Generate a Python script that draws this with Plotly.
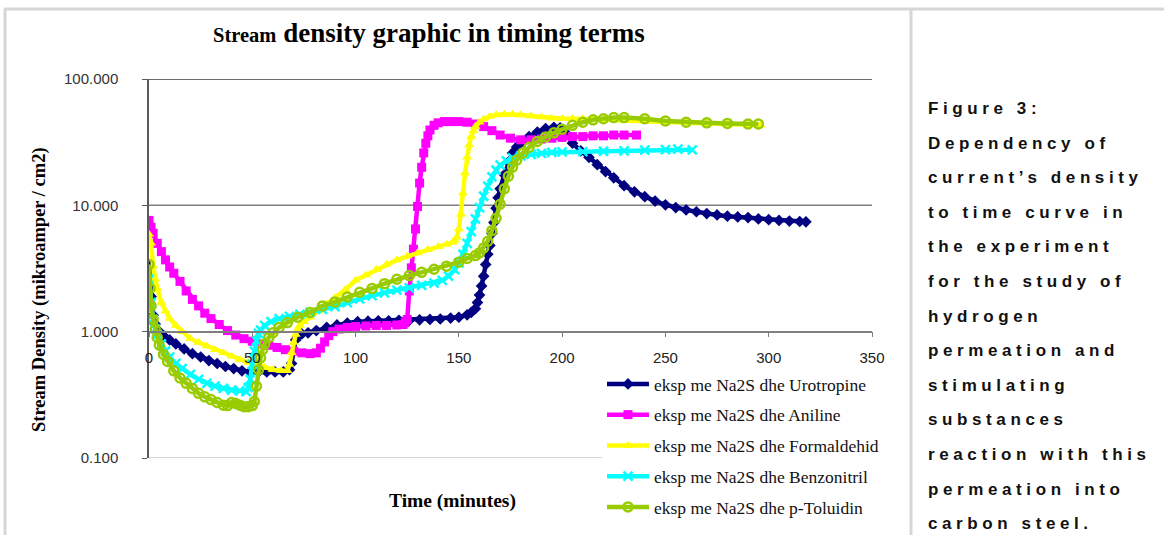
import plotly.graph_objects as go

# ---------------- data ----------------
uro_x = [0, 1, 2, 3, 5, 7, 10, 13, 17, 21, 25, 29, 33, 37, 41, 45, 49, 53, 57, 61, 65, 68, 69, 70, 71, 72, 74, 77,
         81, 86, 91, 96, 101, 106, 111, 116, 121, 126, 131, 136, 141, 146, 150, 154, 156, 158, 159, 160, 161, 162,
         163, 164, 165, 166, 167, 168, 169, 170, 172, 174, 176, 178, 181, 184, 188, 192, 196, 199, 202, 205, 209,
         213, 217, 221, 225, 230, 235, 240, 245, 250, 255, 260, 265, 270, 275, 280, 285, 290, 295, 300, 305, 310,
         315, 318]
uro_y = [3.3, 1.9, 1.35, 1.15, 1.0, 0.93, 0.86, 0.8, 0.73, 0.67, 0.63, 0.59, 0.56, 0.53, 0.51, 0.49, 0.48, 0.48,
         0.48, 0.48, 0.48, 0.5, 0.56, 0.7, 0.86, 0.92, 0.96, 0.98, 1.02, 1.08, 1.13, 1.17, 1.2, 1.21, 1.22, 1.22,
         1.23, 1.23, 1.24, 1.25, 1.26, 1.28, 1.3, 1.36, 1.42, 1.52, 1.7, 1.95, 2.3, 2.75, 3.4, 4.1, 4.8, 6.0, 7.3,
         9.5, 11.5, 13.5, 17.5, 22, 26, 29, 32, 35, 38, 40.5, 41.5, 41, 37, 31, 27, 24, 21, 18.5, 16.5, 14.3, 12.8,
         11.7, 10.8, 10.1, 9.6, 9.2, 8.9, 8.6, 8.4, 8.2, 8.1, 8.0, 7.8, 7.7, 7.6, 7.5, 7.45, 7.4]

ani_x = [0, 1, 2, 4, 6, 8, 10, 12, 15, 18, 21, 24, 27, 30, 34, 38, 42, 46, 50, 54, 58, 62, 66, 70, 74, 78, 81, 83,
         85, 87, 89, 92, 96, 100, 105, 110, 115, 120, 123, 124, 125, 126, 127, 128, 129, 130, 131, 132, 133, 134,
         135, 136, 138, 140, 143, 146, 150, 154, 158, 162, 166, 170, 175, 180, 185, 190, 195, 200, 205, 210, 215,
         220, 225, 230, 236]
ani_y = [7.6, 6.7, 6.0, 5.0, 4.3, 3.7, 3.25, 2.9, 2.5, 2.1, 1.8, 1.6, 1.4, 1.27, 1.14, 1.02, 0.94, 0.88, 0.84,
         0.8, 0.78, 0.75, 0.72, 0.7, 0.68, 0.67, 0.68, 0.74, 0.83, 0.93, 1.0, 1.05, 1.08, 1.1, 1.11, 1.12, 1.12,
         1.13, 1.14, 1.18, 1.25, 2.1, 3.2, 4.5, 6.5, 9.8, 15, 20, 26, 31, 35.5, 39.5, 43, 45, 46, 46, 46, 45.5, 44,
         42, 39, 36, 34, 33, 33, 33.5, 34, 34.5, 35, 35, 35.5, 35.5, 36, 36, 36]

form_x = [0, 1, 2, 3, 4, 6, 8, 10, 13, 16, 20, 24, 28, 32, 36, 40, 44, 48, 52, 56, 60, 64, 67, 68, 69, 70, 71, 72,
          73, 75, 78, 82, 86, 90, 95, 100, 105, 110, 115, 120, 125, 130, 135, 140, 144, 147, 148, 149, 150, 151,
          152, 153, 154, 155, 156, 157, 158, 160, 162, 165, 168, 172, 176, 180, 185, 190, 195, 200, 205, 210, 220,
          230, 240, 250, 260, 270, 280, 290, 296]
form_y = [5.9, 5.0, 3.3, 2.6, 2.2, 1.7, 1.45, 1.27, 1.12, 1.0, 0.88, 0.82, 0.77, 0.72, 0.68, 0.64, 0.6, 0.57,
          0.55, 0.52, 0.5, 0.49, 0.49, 0.55, 0.68, 0.82, 0.95, 1.05, 1.12, 1.2, 1.3, 1.45, 1.65, 1.85, 2.15, 2.55,
          2.8, 3.1, 3.4, 3.7, 3.95, 4.2, 4.45, 4.7, 4.9, 5.1, 5.3, 5.6, 6.5, 8.5, 12.5, 18, 24, 30, 35, 39, 42,
          45.5, 48, 50.5, 52, 52.5, 52.5, 52, 51, 50, 49, 48.5, 48.5, 48.5, 48, 47, 46.5, 45.5, 45, 44.5, 44,
          43.5, 43]

benz_x = [0, 1, 2, 3, 4, 6, 8, 10, 13, 16, 20, 24, 28, 32, 36, 40, 44, 47, 48, 49, 50, 51, 52, 53, 54, 56, 59, 63,
          68, 73, 78, 84, 90, 96, 102, 108, 114, 120, 126, 132, 138, 142, 145, 148, 150, 152, 154, 156, 158, 160,
          162, 164, 166, 168, 170, 173, 176, 180, 185, 190, 195, 200, 210, 220, 230, 240, 250, 256, 263]
benz_y = [2.6, 1.7, 1.25, 1.05, 0.95, 0.8, 0.7, 0.63, 0.56, 0.51, 0.46, 0.42, 0.39, 0.37, 0.355, 0.345, 0.34,
          0.335, 0.36, 0.42, 0.55, 0.7, 0.85, 0.97, 1.03, 1.12, 1.2, 1.27, 1.32, 1.37, 1.42, 1.5, 1.58, 1.7, 1.82,
          1.93, 2.03, 2.13, 2.22, 2.32, 2.42, 2.55, 2.75, 3.1, 3.5, 4.1, 5.0, 6.2, 7.8, 9.6, 11.8, 14.2, 16.8, 19,
          20.8, 22.5, 23.8, 24.6, 25.3, 25.8, 26.2, 26.5, 26.6, 26.8, 27, 27.3, 27.6, 27.8, 27.5]

tol_x = [0, 0.5, 1, 2, 3, 4, 5, 7, 9, 12, 15, 18, 21, 24, 27, 30, 33, 36, 38, 40, 42, 44, 46, 48, 50, 51, 52, 53,
         54, 55, 56, 58, 60, 63, 67, 72, 78, 84, 90, 96, 102, 108, 114, 120, 126, 132, 138, 144, 150, 154, 158,
         160, 162, 164, 166, 168, 170, 172, 174, 176, 178, 181, 184, 188, 192, 196, 200, 205, 210, 215, 220, 225,
         230, 240, 250, 260, 270, 280, 290, 295]
tol_y = [3.4, 2.2, 1.6, 1.25, 1.05, 0.9, 0.78, 0.66, 0.58, 0.49, 0.43, 0.39, 0.355, 0.325, 0.305, 0.29, 0.275,
         0.262, 0.26, 0.275, 0.27, 0.262, 0.255, 0.255, 0.26, 0.28, 0.37, 0.5, 0.62, 0.72, 0.8, 0.9, 0.98, 1.08,
         1.18, 1.3, 1.42, 1.6, 1.72, 1.88, 2.05, 2.2, 2.4, 2.6, 2.78, 2.95, 3.12, 3.3, 3.55, 3.8, 4.0, 4.2, 4.6,
         5.2, 6.3, 7.9, 10.2, 13.5, 17, 20, 22.8, 26, 28.8, 32, 34.8, 37.5, 40, 43, 45.5, 47.5, 48.5, 49.5, 49.5,
         48.5, 46.5, 45.5, 45, 44.5, 44, 44]

series_names = ["eksp me Na2S dhe Urotropine", "eksp me Na2S dhe Aniline", "eksp me Na2S dhe Formaldehid",
                "eksp me Na2S dhe Benzonitril", "eksp me Na2S dhe p-Toluidin"]
y_tick_vals = [0.1, 1, 10, 100]
x_tick_vals = [0, 50, 100, 150, 200, 250, 300, 350]

title_small = "Stream"
title_big = "density graphic in timing terms"
x_title = "Time (minutes)"
y_title = "Stream Density (mikroamper / cm2)"
caption_lines = ["Figure 3:", "Dependency of", "current\u2019s density", "to time curve in", "the experiment",
                 "for the study of", "hydrogen", "permeation and", "stimulating", "substances",
                 "reaction with this", "permeation into", "carbon steel."]

# ---------------- layout helpers (pixel -> paper) ----------------
W, H = 1164, 535
L, R, T, B = 149, 872, 79, 458   # plot area in pixels


def px(xp):
    return (xp - L) / (R - L)


def py(yp):
    return (B - yp) / (B - T)


SERIF = "Liberation Serif, Times New Roman, serif"
SANS = "Liberation Sans, Arial, sans-serif"

styles = [
    dict(color="#000080", symbol="diamond", size=9, line=dict(width=0)),
    dict(color="#FF00FF", symbol="square", size=9, line=dict(width=0)),
    dict(color="#FFFF00", symbol="triangle-up", size=9, line=dict(width=0)),
    dict(color="#00FFFF", symbol="x-thin", size=9, line=dict(width=2.5, color="#00FFFF")),
    dict(color="#99CC00", symbol="circle-open", size=9, line=dict(width=2.5, color="#99CC00")),
]
xs = [uro_x, ani_x, form_x, benz_x, tol_x]
ys = [uro_y, ani_y, form_y, benz_y, tol_y]

fig = go.Figure()
for i in range(5):
    fig.add_trace(go.Scatter(
        x=xs[i], y=ys[i], name=series_names[i], mode="lines+markers",
        line=dict(color=styles[i]["color"], width=4.5),
        marker=styles[i], legendgroup=str(i),
    ))

shapes = [
    # grid lines
    dict(type="line", xref="paper", yref="y", x0=0, x1=1, y0=100, y1=100, line=dict(color="#3a3a3a", width=1.5), layer="below"),
    dict(type="line", xref="paper", yref="y", x0=0, x1=1, y0=10, y1=10, line=dict(color="#7f7f7f", width=1.5), layer="below"),
    dict(type="line", xref="paper", yref="y", x0=0, x1=1, y0=0.1, y1=0.1, line=dict(color="#c8c8c8", width=1.5), layer="below"),
    # frame
    dict(type="line", xref="paper", yref="paper", x0=px(4), x1=px(1170), y0=py(9), y1=py(9), line=dict(color="#d6d6d6", width=3)),
    dict(type="line", xref="paper", yref="paper", x0=px(5), x1=px(5), y0=py(9), y1=py(540), line=dict(color="#d6d6d6", width=3)),
    dict(type="line", xref="paper", yref="paper", x0=px(911), x1=px(911), y0=py(9), y1=py(540), line=dict(color="#d6d6d6", width=3)),
]

annotations = [
    dict(xref="paper", yref="paper", x=px(429), y=py(33), xanchor="center", yanchor="middle", showarrow=False,
         text="<b><span style='font-size:20.5px'>" + title_small + "</span> " + title_big + "</b>",
         font=dict(family=SERIF, size=27, color="#000000")),
    dict(xref="paper", yref="paper", x=px(452), y=py(501), xanchor="center", yanchor="middle", showarrow=False,
         text="<b>" + x_title + "</b>", font=dict(family=SERIF, size=19.5, color="#000000")),
    dict(xref="paper", yref="paper", x=px(39), y=py(290), xanchor="center", yanchor="middle", showarrow=False,
         textangle=-90, text="<b>" + y_title + "</b>", font=dict(family=SERIF, size=18.5, color="#000000")),
]
for k, line in enumerate(caption_lines):
    annotations.append(dict(
        xref="paper", yref="paper", x=px(926), y=py(108.5 + 34.6 * k), xanchor="left", yanchor="middle",
        showarrow=False, text="<b><span style='letter-spacing:4.6px'>" + line + "</span></b>",
        font=dict(family=SANS, size=17, color="#111111")))

fig.update_layout(
    width=W, height=H,
    margin=dict(l=L, r=W - R, t=T, b=H - B, autoexpand=False),
    paper_bgcolor="white", plot_bgcolor="white",
    showlegend=True,
    legend=dict(x=px(602), y=py(366), xanchor="left", yanchor="top", bgcolor="white",
                font=dict(family=SERIF, size=17.5, color="#111111"), tracegroupgap=5,
                traceorder="grouped", itemwidth=42),
    shapes=shapes, annotations=annotations,
    xaxis=dict(range=[0, 350], tickvals=x_tick_vals, anchor="free", position=1 / 3,
               showline=True, linecolor="#7f7f7f", linewidth=1.5, ticks="outside", ticklen=5,
               tickcolor="#7f7f7f", showgrid=False, zeroline=False, ticklabelstandoff=8,
               tickfont=dict(family=SANS, size=15, color="#222222")),
    yaxis=dict(type="log", range=[-1, 2], tickvals=y_tick_vals, tickformat=".3f",
               showline=True, linecolor="#5a5a5a", linewidth=1.5, ticks="outside", ticklen=5,
               tickcolor="#5a5a5a", showgrid=False, zeroline=False, ticklabelstandoff=21,
               tickfont=dict(family=SANS, size=15, color="#333333")),
)

fig.write_html("out.html", config={"displayModeBar": False},
               post_script="document.body.style.margin='0';document.body.style.padding='0';")
